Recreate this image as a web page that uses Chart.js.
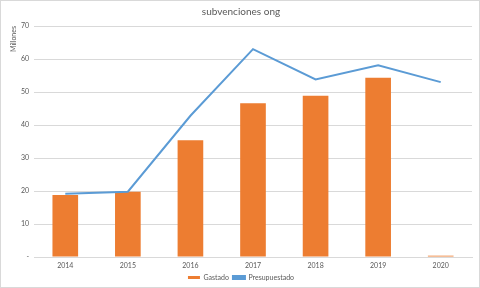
<!DOCTYPE html>
<html>
<head>
<meta charset="utf-8">
<script src="https://cdn.jsdelivr.net/npm/chart.js@4/dist/chart.umd.min.js"></script>
<style>
  html, body { margin: 0; padding: 0; background: #fff; }
  #wrap { width: 480px; height: 288px; position: relative; }
</style>
</head>
<body>
<div id="wrap"><canvas id="grafico"></canvas></div>
<script>
// datos
const anios = ['2014', '2015', '2016', '2017', '2018', '2019', '2020'];
const gastado = [18.8, 19.8, 35.4, 46.6, 48.9, 54.3, 0.4];
const presupuestado = [19.2, 19.8, 42.8, 63.0, 53.8, 58.1, 53.0];
const ticksY = [0, 10, 20, 30, 40, 50, 60, 70];

Chart.defaults.font.family = "Lato, 'Open Sans', sans-serif";
Chart.defaults.color = '#595959';
Chart.defaults.maintainAspectRatio = false;

// marco gris del gráfico
const marco = {
    id: 'marco',
    afterDraw(chart) {
        const c = chart.ctx;
        c.save();
        c.strokeStyle = '#d9d9d9';
        c.lineWidth = 1;
        c.strokeRect(0.5, 0.5, chart.width - 1, chart.height - 1);
        c.restore();
    }
};

new Chart(document.getElementById('grafico').getContext('2d'), {
    type: 'bar',
    data: {
        labels: anios,
        datasets: [
            { label: 'Gastado', data: gastado, backgroundColor: '#ed7d31', borderWidth: 0,
              barPercentage: 0.41, categoryPercentage: 1, order: 1 },
            { label: 'Presupuestado', data: presupuestado, type: 'line', borderColor: '#5b9bd5',
              backgroundColor: '#5b9bd5', borderWidth: 2, pointRadius: 0, tension: 0, order: 0 }
        ]
    },
    options: {
        responsive: true,
        animation: false,
        layout: { padding: { left: 10, right: 8, top: 0, bottom: -3 } },
        plugins: {
            title: { display: true, text: 'subvenciones ong', color: '#595959',
                     font: { size: 10, weight: 'normal' }, padding: { top: 6, bottom: 8 } },
            legend: { position: 'bottom',
                      labels: { boxWidth: 12, boxHeight: 3, font: { size: 7 }, padding: 4,
                                sort: (a, b) => a.datasetIndex - b.datasetIndex } },
            tooltip: { enabled: false }
        },
        scales: {
            x: {
                grid: { display: false, drawTicks: false },
                border: { color: '#d9d9d9' },
                ticks: { font: { size: 7 }, padding: 5 },
                afterFit: s => { s.height = 13; }
            },
            y: {
                min: 0, max: 70,
                afterBuildTicks: s => { s.ticks = ticksY.map(v => ({ value: v })); },
                grid: { color: '#d9d9d9', drawTicks: false },
                border: { display: false },
                ticks: { font: { size: 7 }, padding: 5,
                         callback: v => v === 0 ? '-' : v },
                title: { display: true, text: 'Millones', align: 'end', font: { size: 7 }, padding: 0 },
                afterFit: s => { s.width = 24; }
            }
        }
    },
    plugins: [marco]
});
</script>
</body>
</html>
